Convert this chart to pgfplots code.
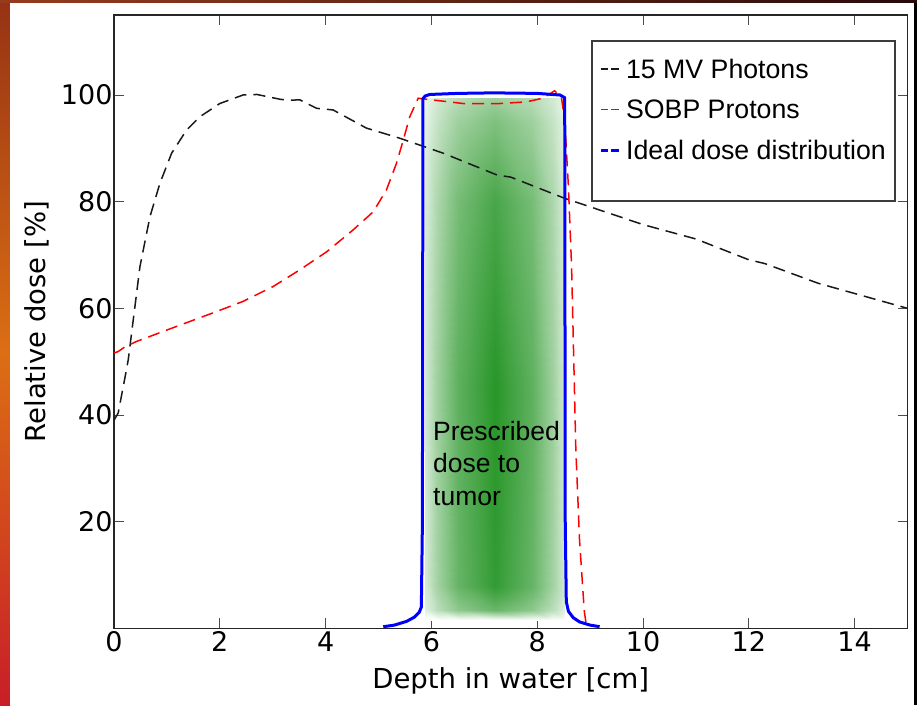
\documentclass[border=0pt]{standalone}
\usepackage{fontspec}
\setmainfont{DejaVu Sans}
\newfontfamily\arialf{Liberation Sans}
\usepackage{pgfplots}
\pgfplotsset{compat=1.18}

\definecolor{legframe}{RGB}{60,60,60}

\begin{document}
\begin{tikzpicture}
\useasboundingbox (0,0) rectangle (917pt,705pt);
\fill[black] (0,0) rectangle (917pt,705pt);
\shade[top color={rgb,255:red,150;green,50;blue,20}, bottom color={rgb,255:red,200;green,30;blue,40}, middle color={rgb,255:red,220;green,110;blue,20}] (0,0) rectangle (10pt,705pt);
\shade[left color={rgb,255:red,150;green,60;blue,30}, right color={rgb,255:red,40;green,10;blue,10}] (0,702pt) rectangle (917pt,705pt);
\fill[white] (10pt,0) rectangle (914pt,702pt);
\begin{axis}[
  at={(114pt,76.7pt)}, anchor=south west,
  scale only axis, width=793.5pt, height=613.3pt,
  xmin=0, xmax=15, ymin=0, ymax=115,
  xtick={0,2,4,6,8,10,12,14}, ytick={20,40,60,80,100},
  tick align=inside, major tick length=10pt,
  tick style={line width=0.8pt, black!70},
  axis line style={line width=1.5pt, black!85},
  /pgf/number format/assume math mode=true,
  ticklabel style={font=\fontsize{27}{30}\selectfont},
  yticklabel style={xshift=2pt},
  xlabel={Depth in water [cm]}, ylabel={Relative dose [\%]},
  label style={font=\fontsize{27.5}{30}\selectfont},
  xlabel style={at={(axis description cs:0.5,-0.085)}, anchor=center},
  ylabel style={at={(axis description cs:-0.097,0.5)}, anchor=center},
  colormap={gfade}{rgb255(0cm)=(255,255,255); rgb255(2cm)=(212,234,212); rgb255(10cm)=(40,150,40)},
  point meta min=0, point meta max=1,
  legend style={at={(0.601,0.96)}, anchor=north west, draw=legframe, line width=2.5pt,
    font=\arialf\fontsize{26.7}{30}\selectfont, inner xsep=7pt, inner ysep=16pt,
    row sep=16pt, column sep=4pt, cells={anchor=west}},
  legend cell align=left,
  legend image code/.code={\draw[#1, dash pattern=on 7.5pt off 3pt] (0pt,0pt) -- (18pt,0pt);},
]
\addplot[surf, shader=interp, mesh/cols=7, point meta=explicit, forget plot] table[meta=m] {
x y m
5.87 1.5 0
6.10 1.5 0
6.50 1.5 0
7.20 1.5 0
7.90 1.5 0
8.30 1.5 0
8.52 1.5 0
5.87 3.5 0.14
6.10 3.5 0.315
6.50 3.5 0.525
7.20 3.5 0.7
7.90 3.5 0.525
8.30 3.5 0.315
8.52 3.5 0.14
5.87 8 0.19
6.10 8 0.4275
6.50 8 0.7125
7.20 8 0.95
7.90 8 0.7125
8.30 8 0.4275
8.52 8 0.19
5.87 45 0.2
6.10 45 0.45
6.50 45 0.75
7.20 45 1.0
7.90 45 0.75
8.30 45 0.45
8.52 45 0.2
5.87 80 0.17
6.10 80 0.3825
6.50 80 0.6375
7.20 80 0.85
7.90 80 0.6375
8.30 80 0.3825
8.52 80 0.17
5.87 95 0.12
6.10 95 0.27
6.50 95 0.45
7.20 95 0.6
7.90 95 0.45
8.30 95 0.27
8.52 95 0.12
5.87 99.5 0.09
6.10 99.5 0.2025
6.50 99.5 0.3375
7.20 99.5 0.45
7.90 99.5 0.3375
8.30 99.5 0.2025
8.52 99.5 0.09
};

\addplot[black!90, line width=1.5pt, dash pattern=on 12pt off 7pt] coordinates {
(0,39)(0.08,40.4)(0.23,48.2)(0.27,50.4)(0.49,67.8)(0.68,77.2)(0.87,83.5)(1.09,89.1)
(1.37,93.4)(1.62,95.9)(2.0,98.4)(2.44,100)(2.7,100.1)(3.14,99.2)(3.3,99.0)(3.51,99.1)
(3.83,97.5)(4.14,97.2)(4.77,93.8)(5.4,91.9)(6.22,89.1)(7.24,85.0)(7.5,84.6)(8.5,80.7)
(10,75.7)(11,73)(12,69.1)(12.3,68.4)(13.31,64.7)(15,60)};
\addlegendentry{15 MV Photons}

\addplot[red, line width=1.5pt, dash pattern=on 12pt off 7pt] coordinates {
(0,51.6)(0.08,51.9)(0.21,52.8)(0.43,53.8)(1.18,56.6)(1.94,59.4)(2.44,61.3)(3.01,64.1)
(3.51,67.2)(4.02,70.6)(4.52,74.7)(4.9,78.1)(5.15,82.2)(5.34,87.2)(5.47,91.6)(5.59,95.9)
(5.75,99.4)(5.91,99.2)(6.6,98.4)(7.29,98.4)(7.79,98.7)(8.11,99.4)(8.33,100.8)(8.46,99.4)
(8.52,95.3)(8.59,82.8)(8.65,67.8)(8.73,33.6)(8.8,16.6)(8.89,3.2)(8.93,0.5)};
\addlegendentry{SOBP Protons}

\addplot[blue, line width=3pt, line join=round] coordinates {
(5.09,0.3)(5.3,0.6)(5.53,1.3)(5.68,2.1)(5.77,3.0)(5.81,4.0)(5.83,20)(5.84,99.3)
(5.88,99.8)(5.97,100.1)(6.5,100.3)(7.17,100.4)(8.0,100.3)(8.43,100.0)(8.52,99.5)
(8.53,20)(8.55,5)(8.59,3.2)(8.68,2.0)(8.8,1.2)(9.0,0.6)(9.18,0.3)};
\addlegendentry{Ideal dose distribution}

\addlegendimage{empty legend}
\addlegendentry{\rule{0pt}{1pt}}

\node[anchor=north west, align=left, inner sep=0pt, font=\arialf\fontsize{26.5}{32.5}\selectfont]
  at (axis cs:6.03,38.9) {Prescribed\\dose to\\tumor};
\end{axis}
\end{tikzpicture}
\end{document}
